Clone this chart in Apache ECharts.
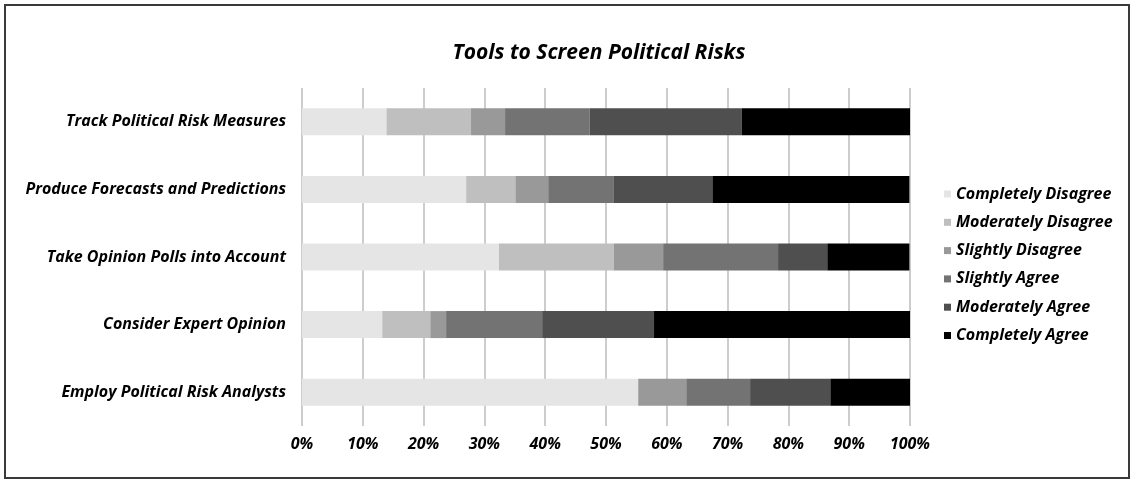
<!DOCTYPE html>
<html>
<head>
<meta charset="utf-8">
<script src="https://cdn.jsdelivr.net/npm/echarts@6/dist/echarts.min.js"></script>
<style>
  html, body { margin: 0; padding: 0; background: #ffffff; }
  #chart { width: 1136px; height: 484px; }
</style>
</head>
<body>
<div id="chart"></div>
<script>
// Survey items, top to bottom
const categories = [
  'Track Political Risk Measures',
  'Produce Forecasts and Predictions',
  'Take Opinion Polls into Account',
  'Consider Expert Opinion',
  'Employ Political Risk Analysts'
];

// Response levels and their grey shades
const levels = [
  'Completely Disagree',
  'Moderately Disagree',
  'Slightly Disagree',
  'Slightly Agree',
  'Moderately Agree',
  'Completely Agree'
];
const shades = ['#e5e5e5', '#bfbfbf', '#999999', '#737373', '#4f4f4f', '#000000'];

// Share of respondents (%) per level, one value per item
const completelyDisagree = [13.9, 27.0, 32.4, 13.2, 55.3];
const moderatelyDisagree = [13.9, 8.1, 18.9, 7.9, 0];
const slightlyDisagree   = [5.6, 5.4, 8.1, 2.6, 7.9];
const slightlyAgree      = [13.9, 10.8, 18.9, 15.8, 10.5];
const moderatelyAgree    = [25.0, 16.2, 8.1, 18.4, 13.2];
const completelyAgree    = [27.8, 32.4, 13.5, 42.1, 13.2];

// Percent axis ticks
const tickValues = [0, 10, 20, 30, 40, 50, 60, 70, 80, 90, 100];

const seriesValues = [
  completelyDisagree, moderatelyDisagree, slightlyDisagree,
  slightlyAgree, moderatelyAgree, completelyAgree
];

const FONT = '"Open Sans"';
const textBase = { fontFamily: FONT, fontWeight: 'bold', fontStyle: 'italic', color: '#000' };

const chart = echarts.init(document.getElementById('chart'));
chart.setOption({
  animation: false,
  backgroundColor: '#ffffff',
  title: {
    text: 'Tools to Screen Political Risks',
    left: 594,
    top: 38,
    textAlign: 'center',
    textStyle: Object.assign({}, textBase, { fontSize: 21 })
  },
  legend: {
    orient: 'vertical',
    left: 939,
    top: 180,
    itemWidth: 7,
    itemHeight: 7,
    itemGap: 10.3,
    icon: 'rect',
    data: levels,
    textStyle: Object.assign({}, textBase, { fontSize: 16, lineHeight: 18 })
  },
  grid: {
    left: 302,
    right: 226,
    top: 88,
    bottom: 58,
    containLabel: false
  },
  xAxis: {
    type: 'value',
    min: tickValues[0],
    max: tickValues[tickValues.length - 1],
    interval: 10,
    axisLine: { show: false },
    axisTick: { show: false },
    splitLine: { show: true, lineStyle: { color: '#bdbdbd', width: 1.5 } },
    axisLabel: Object.assign({}, textBase, {
      fontSize: 16,
      margin: 10,
      formatter: function (v) { return v + '%'; }
    })
  },
  yAxis: {
    type: 'category',
    data: categories,
    inverse: true,
    axisLine: { show: false },
    axisTick: { show: false },
    splitLine: { show: false },
    axisLabel: Object.assign({}, textBase, { fontSize: 16, margin: 16 })
  },
  series: levels.map(function (name, i) {
    return {
      name: name,
      type: 'bar',
      stack: 'total',
      barWidth: 27,
      data: seriesValues[i],
      itemStyle: { color: shades[i] },
      emphasis: { disabled: true }
    };
  }),
  graphic: [{
    type: 'rect',
    silent: true,
    shape: { x: 5, y: 5, width: 1124, height: 473 },
    style: { fill: 'none', stroke: '#3a3a3a', lineWidth: 2 }
  }]
});
</script>
</body>
</html>
